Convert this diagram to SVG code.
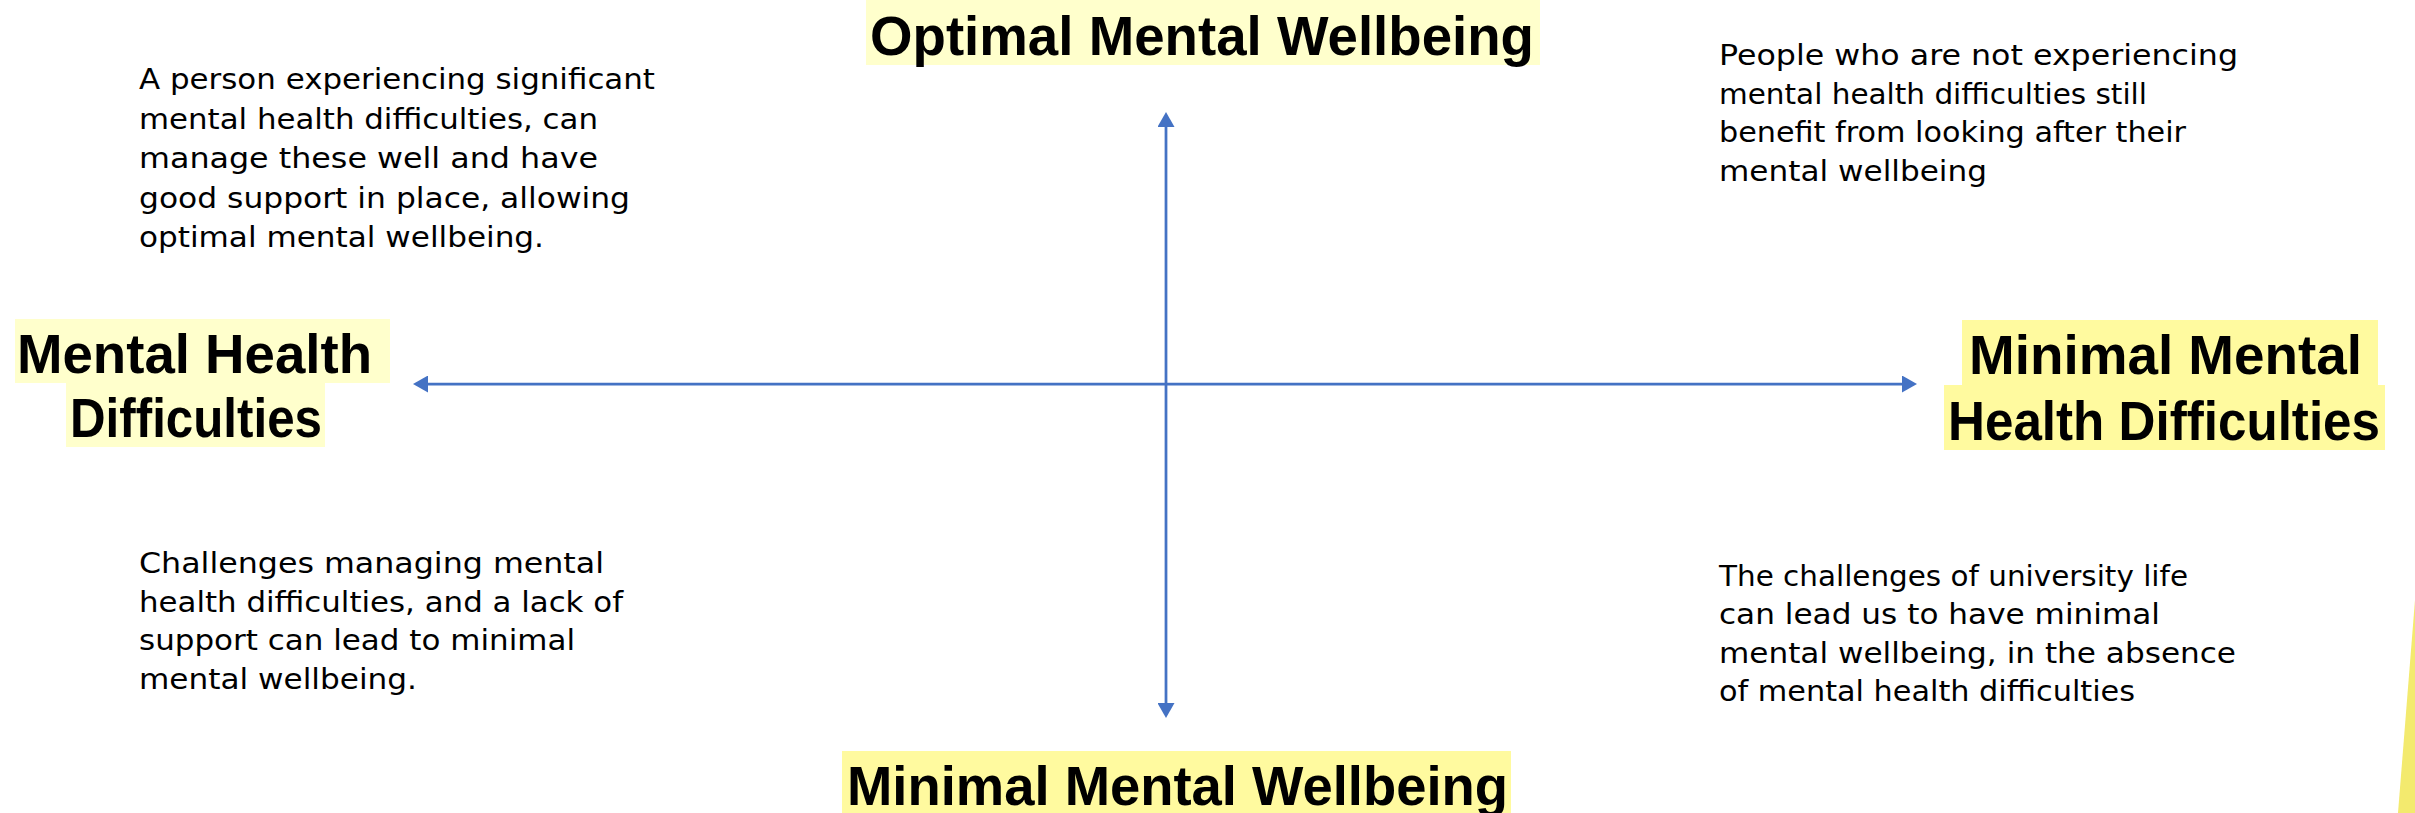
<svg xmlns="http://www.w3.org/2000/svg" width="2415" height="813" viewBox="0 0 2415 813">
  <style>
    .axis { stroke: #4472C4; stroke-width: 2.75; fill: none; }
    .hl-pale { fill: #FFFFCC; }
    .hl-warm { fill: #FFFA9F; }
    .head { font-family: "Liberation Sans", Arial, sans-serif; font-weight: bold; font-size: 56px; fill: #000000; }
    .body { font-family: "DejaVu Sans", "Liberation Sans", sans-serif; font-size: 28px; fill: #000000; }
  </style>
  <defs>
    <marker id="arrowhead" viewBox="0 0 15 17" markerWidth="15" markerHeight="17" refX="0" refY="8.5" markerUnits="userSpaceOnUse" orient="auto-start-reverse">
      <path d="M0,0 L15,8.5 L0,17 z" fill="#4472C4"/>
    </marker>
  </defs>

  <rect width="2415" height="813" fill="#FFFFFF"/>

  <!-- decorative sliver at the lower right edge -->
  <polygon points="2415,600 2398,813 2415,813" fill="#F3EA6E"/>

  <!-- axes -->
  <g id="connectors">
    <line class="axis" x1="1166" y1="127" x2="1166" y2="703" marker-start="url(#arrowhead)" marker-end="url(#arrowhead)"/>
    <line class="axis" x1="428" y1="384" x2="1902" y2="384" marker-start="url(#arrowhead)" marker-end="url(#arrowhead)"/>
  </g>

  <!-- axis end labels -->
  <g id="label-top">
    <rect class="hl-pale" x="866" y="0" width="674" height="65"/>
    <text class="head" x="870" y="55" textLength="664" lengthAdjust="spacingAndGlyphs">Optimal Mental Wellbeing</text>
  </g>

  <g id="label-bottom">
    <rect class="hl-warm" x="842" y="751" width="669" height="62"/>
    <text class="head" x="847" y="805" textLength="661" lengthAdjust="spacingAndGlyphs">Minimal Mental Wellbeing</text>
  </g>

  <g id="label-left">
    <rect class="hl-pale" x="15" y="319" width="375" height="64"/>
    <rect class="hl-pale" x="66" y="383" width="259" height="64"/>
    <text class="head" x="17" y="373" textLength="355" lengthAdjust="spacingAndGlyphs">Mental Health</text>
    <text class="head" x="70" y="437" textLength="252" lengthAdjust="spacingAndGlyphs">Difficulties</text>
  </g>

  <g id="label-right">
    <rect class="hl-warm" x="1962" y="320" width="416" height="65"/>
    <rect class="hl-warm" x="1944" y="385" width="441" height="65"/>
    <text class="head" x="1969" y="374" textLength="393" lengthAdjust="spacingAndGlyphs">Minimal Mental</text>
    <text class="head" x="1948" y="440" font-size="54" textLength="432" lengthAdjust="spacingAndGlyphs">Health Difficulties</text>
  </g>

  <!-- quadrant descriptions -->
  <g id="quadrant-top-left">
    <text class="body" x="139" y="89" textLength="516" lengthAdjust="spacingAndGlyphs">A person experiencing significant</text>
    <text class="body" x="139" y="128.5" textLength="459" lengthAdjust="spacingAndGlyphs">mental health difficulties, can</text>
    <text class="body" x="139" y="168" textLength="459" lengthAdjust="spacingAndGlyphs">manage these well and have</text>
    <text class="body" x="139" y="207.5" textLength="491" lengthAdjust="spacingAndGlyphs">good support in place, allowing</text>
    <text class="body" x="139" y="247" textLength="405" lengthAdjust="spacingAndGlyphs">optimal mental wellbeing.</text>
  </g>

  <g id="quadrant-top-right">
    <text class="body" x="1719" y="65" textLength="519" lengthAdjust="spacingAndGlyphs">People who are not experiencing</text>
    <text class="body" x="1719" y="103.5" textLength="428" lengthAdjust="spacingAndGlyphs">mental health difficulties still</text>
    <text class="body" x="1719" y="142" textLength="467" lengthAdjust="spacingAndGlyphs">benefit from looking after their</text>
    <text class="body" x="1719" y="180.5" textLength="268" lengthAdjust="spacingAndGlyphs">mental wellbeing</text>
  </g>

  <g id="quadrant-bottom-left">
    <text class="body" x="139" y="573" textLength="465" lengthAdjust="spacingAndGlyphs">Challenges managing mental</text>
    <text class="body" x="139" y="611.5" textLength="484" lengthAdjust="spacingAndGlyphs">health difficulties, and a lack of</text>
    <text class="body" x="139" y="650" textLength="436" lengthAdjust="spacingAndGlyphs">support can lead to minimal</text>
    <text class="body" x="139" y="688.5" textLength="278" lengthAdjust="spacingAndGlyphs">mental wellbeing.</text>
  </g>

  <g id="quadrant-bottom-right">
    <text class="body" x="1719" y="585.5" textLength="469" lengthAdjust="spacingAndGlyphs">The challenges of university life</text>
    <text class="body" x="1719" y="624" textLength="441" lengthAdjust="spacingAndGlyphs">can lead us to have minimal</text>
    <text class="body" x="1719" y="662.5" textLength="517" lengthAdjust="spacingAndGlyphs">mental wellbeing, in the absence</text>
    <text class="body" x="1719" y="701" textLength="416" lengthAdjust="spacingAndGlyphs">of mental health difficulties</text>
  </g>
</svg>
